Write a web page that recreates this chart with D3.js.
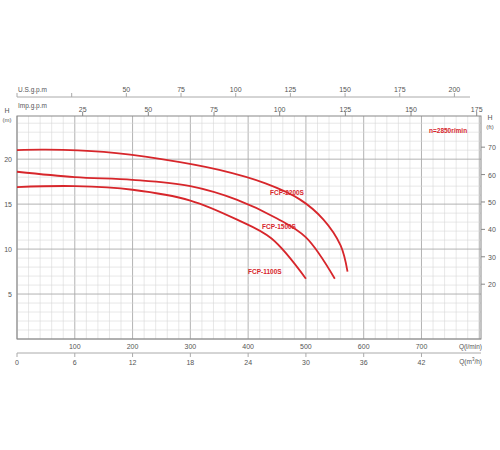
<!DOCTYPE html>
<html><head><meta charset="utf-8">
<script src="https://cdn.jsdelivr.net/npm/d3@7"></script>
<style>body{margin:0;background:#fff}text{font-family:"Liberation Sans",Arial,sans-serif}</style>
</head><body><svg id="c" width="500" height="450"></svg>
<script>
// pump curves, Q in l/min, H in m
var qs2200 = [0, 50, 150, 250, 350, 430, 490, 530, 560, 572];
var h2200 = [21.0, 21.05, 20.8, 20.0, 18.8, 17.3, 15.5, 13.3, 10.4, 7.5];
var qs1500 = [0, 100, 200, 300, 380, 450, 500, 550];
var h1500 = [18.6, 18.0, 17.7, 17.0, 15.5, 13.4, 11.3, 6.7];
var qs1100 = [0, 100, 200, 300, 380, 440, 500];
var h1100 = [16.9, 17.0, 16.6, 15.4, 13.3, 11.2, 6.7];
var lminTicks = [100, 200, 300, 400, 500, 600, 700];
var m3hTicks = [0, 6, 12, 18, 24, 30, 36, 42];
var impTicks = [25, 50, 75, 100, 125, 150, 175];
var usTicks = [50, 75, 100, 125, 150, 175, 200];
var mTicks = [5, 10, 15, 20];
var ftTicks = [20, 30, 40, 50, 60, 70];

var svg = d3.select("#c");
var x = d3.scaleLinear().domain([0, 803]).range([17, 481]);
var y = d3.scaleLinear().domain([0, 24.8]).range([339, 116]);
var grey = "#555";

// grid
var g = svg.append("g");
d3.range(0, 801, 20).forEach(function (q) {
  g.append("line").attr("x1", x(q)).attr("x2", x(q)).attr("y1", 116).attr("y2", 339)
    .attr("stroke", q % 100 == 0 ? "#aaa" : "#d6d6d6").attr("stroke-width", q % 100 == 0 ? 0.9 : 0.6);
});
d3.range(0, 25, 1).forEach(function (h) {
  g.append("line").attr("x1", 17).attr("x2", 481).attr("y1", y(h)).attr("y2", y(h))
    .attr("stroke", h % 5 == 0 ? "#aaa" : "#d6d6d6").attr("stroke-width", h % 5 == 0 ? 0.9 : 0.6);
});
svg.append("rect").attr("x", 17).attr("y", 116).attr("width", 464).attr("height", 223)
  .attr("fill", "none").attr("stroke", "#888");

function lab(t, px, py, anchor, size, col, w) {
  return svg.append("text").attr("x", px).attr("y", py).attr("text-anchor", anchor || "middle")
    .attr("font-size", size || 7).attr("fill", col || grey).attr("font-weight", w || "normal").text(t);
}

// left m axis
mTicks.forEach(function (h) { lab(h, 12, y(h) + 3, "end"); });
lab("H", 7, 113, "middle"); lab("(m)", 7, 122, "middle", 6);
// right ft axis
ftTicks.forEach(function (f) {
  var yy = y(f / 3.281);
  svg.append("line").attr("x1", 481).attr("x2", 485).attr("y1", yy).attr("y2", yy).attr("stroke", "#888");
  lab(f, 488, yy + 3, "start");
});
lab("H", 490, 120, "middle"); lab("(ft)", 490, 129, "middle", 6);

// bottom l/min
lminTicks.forEach(function (q) { lab(q, x(q), 349); });
lab("Q(l/min)", 482, 349, "end", 6.5);
// m3/h
svg.append("line").attr("x1", 17).attr("x2", 481).attr("y1", 353).attr("y2", 353).attr("stroke", "#aaa");
m3hTicks.forEach(function (m) {
  var xx = x(m * 1000 / 60);
  svg.append("line").attr("x1", xx).attr("x2", xx).attr("y1", 353).attr("y2", 357).attr("stroke", "#aaa");
  lab(m, xx, 365);
});
svg.append("text").attr("x", 482).attr("y", 364).attr("text-anchor", "end").attr("font-size", 6.5).attr("fill", grey)
  .html('Q(m<tspan dy="-3" font-size="4.5">3</tspan><tspan dy="3">/h)</tspan>');

// Imp gpm at top of plot
impTicks.forEach(function (v) {
  var xx = x(v * 4.546);
  svg.append("line").attr("x1", xx).attr("x2", xx).attr("y1", 112).attr("y2", 116).attr("stroke", "#888");
  lab(v, xx, 112);
});
lab("Imp.g.p.m", 18, 108, "start", 6.5);
// US gpm
svg.append("line").attr("x1", 17).attr("x2", 470).attr("y1", 97).attr("y2", 97).attr("stroke", "#aaa");
svg.append("line").attr("x1", 17).attr("x2", 17).attr("y1", 93).attr("y2", 97).attr("stroke", "#aaa");
[25].concat(usTicks).forEach(function (v) {
  var xx = x(v * 3.785);
  svg.append("line").attr("x1", xx).attr("x2", xx).attr("y1", 93).attr("y2", 97).attr("stroke", "#aaa");
  if (v != 25) lab(v, xx, 92);
});
lab("U.S.g.p.m", 18, 92, "start", 6.5);

// curves
var red = "#d7262b";
var line = d3.line().x(function (d) { return x(d[0]); }).y(function (d) { return y(d[1]); }).curve(d3.curveCatmullRom.alpha(0.5));
[[qs2200, h2200], [qs1500, h1500], [qs1100, h1100]].forEach(function (s) {
  svg.append("path").attr("d", line(d3.zip(s[0], s[1]))).attr("fill", "none")
    .attr("stroke", red).attr("stroke-width", 1.8);
});
lab("FCP-2200S", 270, 195, "start", 6.5, red, "bold");
lab("FCP-1500S", 262, 229, "start", 6.5, red, "bold");
lab("FCP-1100S", 248, 274, "start", 6.5, red, "bold");
lab("n=2850r/min", 429, 133, "start", 6.5, red, "bold");
</script></body></html>
